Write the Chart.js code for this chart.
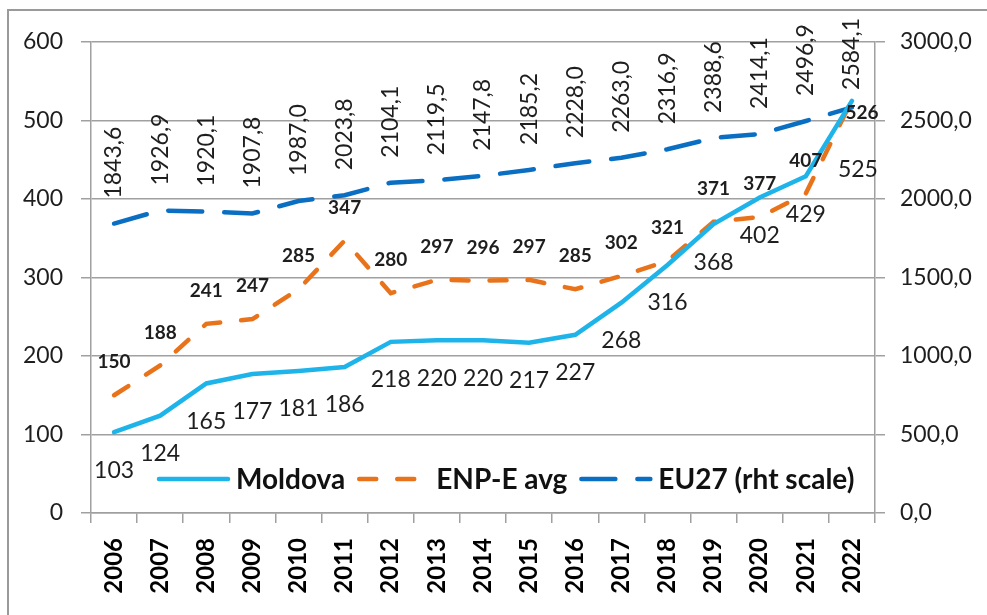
<!DOCTYPE html>
<html><head><meta charset="utf-8">
<script src="https://cdn.jsdelivr.net/npm/chart.js@4.4.0/dist/chart.umd.min.js"></script>
<style>html,body{margin:0;padding:0;background:#fff;overflow:hidden}canvas{display:block}</style>
</head><body>
<canvas id="c" width="987" height="615" style="width:987px;height:615px"></canvas>
<script>
const years = ['2006','2007','2008','2009','2010','2011','2012','2013','2014','2015','2016','2017','2018','2019','2020','2021','2022'];
const moldova = [103,124,165,177,181,186,218,220,220,217,227,268,316,368,402,429,525];
const enpE = [150,188,241,247,285,347,280,297,296,297,285,302,321,371,377,407,526];
const eu27 = [1843.6,1926.9,1920.1,1907.8,1987.0,2023.8,2104.1,2119.5,2147.8,2185.2,2228.0,2263.0,2316.9,2388.6,2414.1,2496.9,2584.1];
const leftTicks = [0,100,200,300,400,500,600];
const rightTicks = [0,500,1000,1500,2000,2500,3000];
const seriesNames = ['Moldova','ENP-E avg','EU27 (rht scale)'];

const FAM = 'Lato, "Liberation Sans", sans-serif';
const fmt1 = v => Number(v).toFixed(1).replace('.', ',');
const COLORS = ['#1EB4EA', '#E8731A', '#0A6FC2'];
const DASHES = [[], [17, 21], [34, 22]];

const labelStyle = [
  {font: 'normal 23px ' + FAM, dx: 0, dy: 38},
  {font: 'bold 19px ' + FAM, dx: 0, dy: -33},
  {font: 'normal 23px ' + FAM, rotate: true, gap: 25}
];
const lastOverrides = {0: {dx: 6, dy: 69}, 1: {dx: 10, dy: 13}};

const framePlugin = {
  id: 'frame',
  beforeDraw(chart) {
    const ctx = chart.ctx;
    ctx.save();
    ctx.fillStyle = '#fff';
    ctx.fillRect(0, 0, chart.width, chart.height);
    ctx.strokeStyle = '#9a9a9a';
    ctx.lineWidth = 2;
    ctx.strokeRect(8, 10, 1100, 800);
    ctx.restore();
  }
};

const labelsPlugin = {
  id: 'labels',
  afterDatasetsDraw(chart) {
    const ctx = chart.ctx;
    chart.data.datasets.forEach((ds, i) => {
      const meta = chart.getDatasetMeta(i);
      const st = labelStyle[i];
      meta.data.forEach((pt, j) => {
        const v = ds.data[j];
        const txt = i === 2 ? fmt1(v) : String(v);
        ctx.save();
        ctx.font = st.font;
        ctx.fillStyle = '#1e1e1e';
        if (st.rotate) {
          const w = ctx.measureText(txt).width;
          let bottom = pt.y - st.gap;
          if (bottom - w < 18) bottom = 18 + w;
          ctx.translate(pt.x, bottom);
          ctx.rotate(-Math.PI / 2);
          ctx.textAlign = 'left';
          ctx.textBaseline = 'middle';
          ctx.fillText(txt, 0, 0);
        } else {
          let dx = st.dx, dy = st.dy;
          if (j === meta.data.length - 1 && lastOverrides[i]) { dx = lastOverrides[i].dx; dy = lastOverrides[i].dy; }
          ctx.textAlign = 'center';
          ctx.textBaseline = 'middle';
          ctx.fillText(txt, pt.x + dx, pt.y + dy);
        }
        ctx.restore();
      });
    });
  }
};

const legendPlugin = {
  id: 'customLegend',
  afterDraw(chart) {
    const ctx = chart.ctx;
    const ca = chart.chartArea;
    const y = ca.bottom - 34;
    let x = ca.left + 66;
    ctx.save();
    ctx.font = 'bold 28px ' + FAM;
    ctx.textBaseline = 'middle';
    ctx.textAlign = 'left';
    chart.data.datasets.forEach((ds, i) => {
      ctx.save();
      ctx.strokeStyle = ds.borderColor;
      ctx.lineWidth = ds.borderWidth;
      ctx.lineCap = 'round';
      ctx.setLineDash(ds.borderDash || []);
      ctx.beginPath();
      ctx.moveTo(x + 2, y);
      ctx.lineTo(x + 71, y);
      ctx.stroke();
      ctx.restore();
      x += 79;
      ctx.fillStyle = '#111';
      ctx.fillText(ds.label, x, y + 1);
      x += ctx.measureText(ds.label).width + 12;
    });
    ctx.restore();
  }
};

const tickFont = {family: FAM, size: 23};
const gridColor = '#a0a0a0';

new Chart(document.getElementById('c'), {
  type: 'line',
  data: {
    labels: years,
    datasets: [
      {label: seriesNames[0], data: moldova, yAxisID: 'y', borderColor: COLORS[0], borderWidth: 4.5, borderDash: DASHES[0], pointRadius: 0, tension: 0, borderCapStyle: 'round'},
      {label: seriesNames[1], data: enpE, yAxisID: 'y', borderColor: COLORS[1], borderWidth: 4.5, borderDash: DASHES[1], pointRadius: 0, tension: 0, borderCapStyle: 'round'},
      {label: seriesNames[2], data: eu27, yAxisID: 'y1', borderColor: COLORS[2], borderWidth: 4.5, borderDash: DASHES[2], pointRadius: 0, tension: 0, borderCapStyle: 'round'}
    ]
  },
  options: {
    responsive: false,
    animation: false,
    devicePixelRatio: 1,
    layout: {padding: {top: 42, left: 0, right: 0, bottom: 0}},
    plugins: {legend: {display: false}, tooltip: {enabled: false}},
    scales: {
      x: {
        offset: true,
        grid: {display: true, drawOnChartArea: false, drawTicks: true, tickLength: 10, color: gridColor, offset: true, lineWidth: 1.5},
        border: {display: true, color: gridColor, width: 1.5},
        ticks: {minRotation: 90, maxRotation: 90, autoSkip: false, padding: 15, color: '#000', font: {family: FAM, size: 24, weight: 'bold'}},
        afterFit(s) { s.height = 102; }
      },
      y: {
        position: 'left', min: 0, max: 600,
        afterBuildTicks(s) { s.ticks = leftTicks.map(v => ({value: v})); },
        grid: {color: gridColor, tickLength: 10, lineWidth: 1.5},
        border: {display: true, color: gridColor, width: 1.5},
        ticks: {padding: 18, color: '#1e1e1e', font: tickFont},
        afterFit(s) { s.width = 91; }
      },
      y1: {
        position: 'right', min: 0, max: 3000,
        afterBuildTicks(s) { s.ticks = rightTicks.map(v => ({value: v})); },
        grid: {drawOnChartArea: false, color: gridColor, tickLength: 10, lineWidth: 1.5},
        border: {display: true, color: gridColor, width: 1.5},
        ticks: {padding: 15, color: '#1e1e1e', font: tickFont, callback: v => fmt1(v)},
        afterFit(s) { s.width = 112; }
      }
    }
  },
  plugins: [framePlugin, labelsPlugin, legendPlugin]
});
</script>
</body></html>
